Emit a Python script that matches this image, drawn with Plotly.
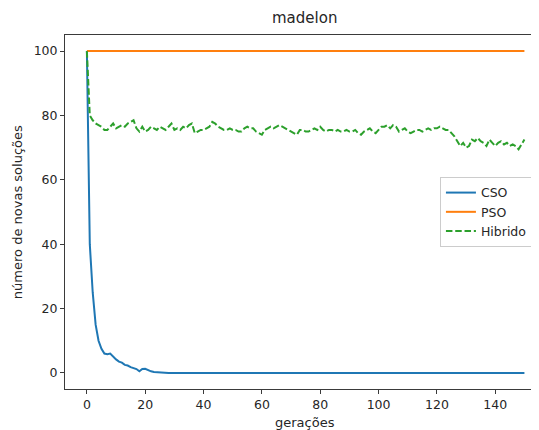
import plotly.graph_objects as go

geracoes = list(range(151))

cso = [100, 40, 25, 15, 10, 7.5, 6, 5.8, 6, 5, 4.2, 3.5, 3.2, 2.5, 2.3, 1.8, 1.5, 1.2,
       0.5, 1.2, 1.3, 0.8, 0.5, 0.3, 0.2, 0.1, 0.1] + [0] * 124

pso = [100] * 151

hibrido = [100, 80, 78.5, 77.5, 77, 76.5, 75.5, 75.5, 76.5, 77.5,
           76, 76.5, 77, 76.5, 77.5, 78, 78.5, 76, 75, 76.5,
           75, 75.5, 76.5, 76, 75.5, 76.5, 76, 75.5, 76.5, 77.5,
           75.5, 76, 75.5, 76.5, 76, 77, 77.5, 74.5, 75, 75.5,
           75.5, 76, 76.5, 78, 77.5, 76.5, 76, 75.5, 75.5, 76,
           75.5, 75.5, 75, 75, 76, 76.5, 76, 76, 75, 74.5,
           74, 75.5, 76, 76.5, 76, 76.5, 77, 76.5, 76, 75.5,
           75, 74.5, 74, 75.5, 75.5, 75, 75, 75.5, 76, 75.5,
           76.5, 75.5, 75, 75.5, 75.5, 75, 75.5, 75, 75, 75.5,
           75, 75, 75.5, 74.5, 74, 75, 75.5, 76, 75, 74.5,
           75.5, 76.5, 76.5, 77, 76, 77, 76.5, 75, 75.5, 76,
           75, 74.5, 75, 75.5, 75.5, 75, 75.5, 76, 75.5, 76,
           76, 76.5, 76, 75.5, 75.5, 74.5, 73.5, 72, 70.5, 71.5,
           70, 70.5, 72.5, 72, 73, 72, 71.5, 70.5, 72.5, 71.5,
           70.5, 71.5, 72, 71, 71.5, 70.5, 71, 70.5, 69.5, 71,
           72.5]

x_ticks = [0, 20, 40, 60, 80, 100, 120, 140]
y_ticks = [0, 20, 40, 60, 80, 100]

FONT = "DejaVu Sans"
TXT = "#262626"
AX = "#3a3a3a"

fig = go.Figure()
fig.add_trace(go.Scatter(x=geracoes, y=cso, mode="lines", name="CSO",
                         line=dict(color="#1f77b4", width=2)))
fig.add_trace(go.Scatter(x=geracoes, y=pso, mode="lines", name="PSO",
                         line=dict(color="#ff7f0e", width=2)))
fig.add_trace(go.Scatter(x=geracoes, y=hibrido, mode="lines", name="Hibrido",
                         line=dict(color="#2ca02c", width=2, dash="6.5px,2.8px")))

fig.update_layout(
    width=531, height=422,
    margin=dict(l=57, r=0, t=27, b=41),
    paper_bgcolor="white", plot_bgcolor="white",
    font=dict(family=FONT, size=12.5, color=TXT),
    showlegend=True,
    legend=dict(x=0.791, y=0.599, xanchor="left", yanchor="top",
                bgcolor="white", bordercolor="#cccccc", borderwidth=1,
                font=dict(family=FONT, size=12.5, color=TXT),
                itemwidth=30, tracegroupgap=0),
    xaxis=dict(range=[-7.5, 155.0], tickvals=x_ticks, ticks="outside",
               ticklen=4, tickwidth=1, tickcolor=AX, showline=True,
               linecolor=AX, linewidth=1, mirror=True, showgrid=False,
               zeroline=False, ticklabelstandoff=0,
               tickfont=dict(family=FONT, size=12.5, color=TXT)),
    yaxis=dict(range=[-5, 105], tickvals=y_ticks, ticks="outside",
               ticklen=4, tickwidth=1, tickcolor=AX, showline=True,
               linecolor=AX, linewidth=1, showgrid=False,
               zeroline=False, tickfont=dict(family=FONT, size=12.5, color=TXT)),
    annotations=[
        dict(text="madelon", xref="paper", yref="paper", x=0.506, y=1.048,
             xanchor="center", yanchor="middle", showarrow=False,
             font=dict(family=FONT, size=15, color=TXT)),
        dict(text="gerações", xref="paper", yref="paper", x=0.506, y=-0.094,
             xanchor="center", yanchor="middle", showarrow=False,
             font=dict(family=FONT, size=13, color=TXT)),
        dict(text="número de novas soluções", xref="paper", yref="paper",
             x=-0.101, y=0.5, xanchor="center", yanchor="middle",
             showarrow=False, textangle=-90,
             font=dict(family=FONT, size=13, color=TXT)),
    ],
)

fig.write_html("out.html")
